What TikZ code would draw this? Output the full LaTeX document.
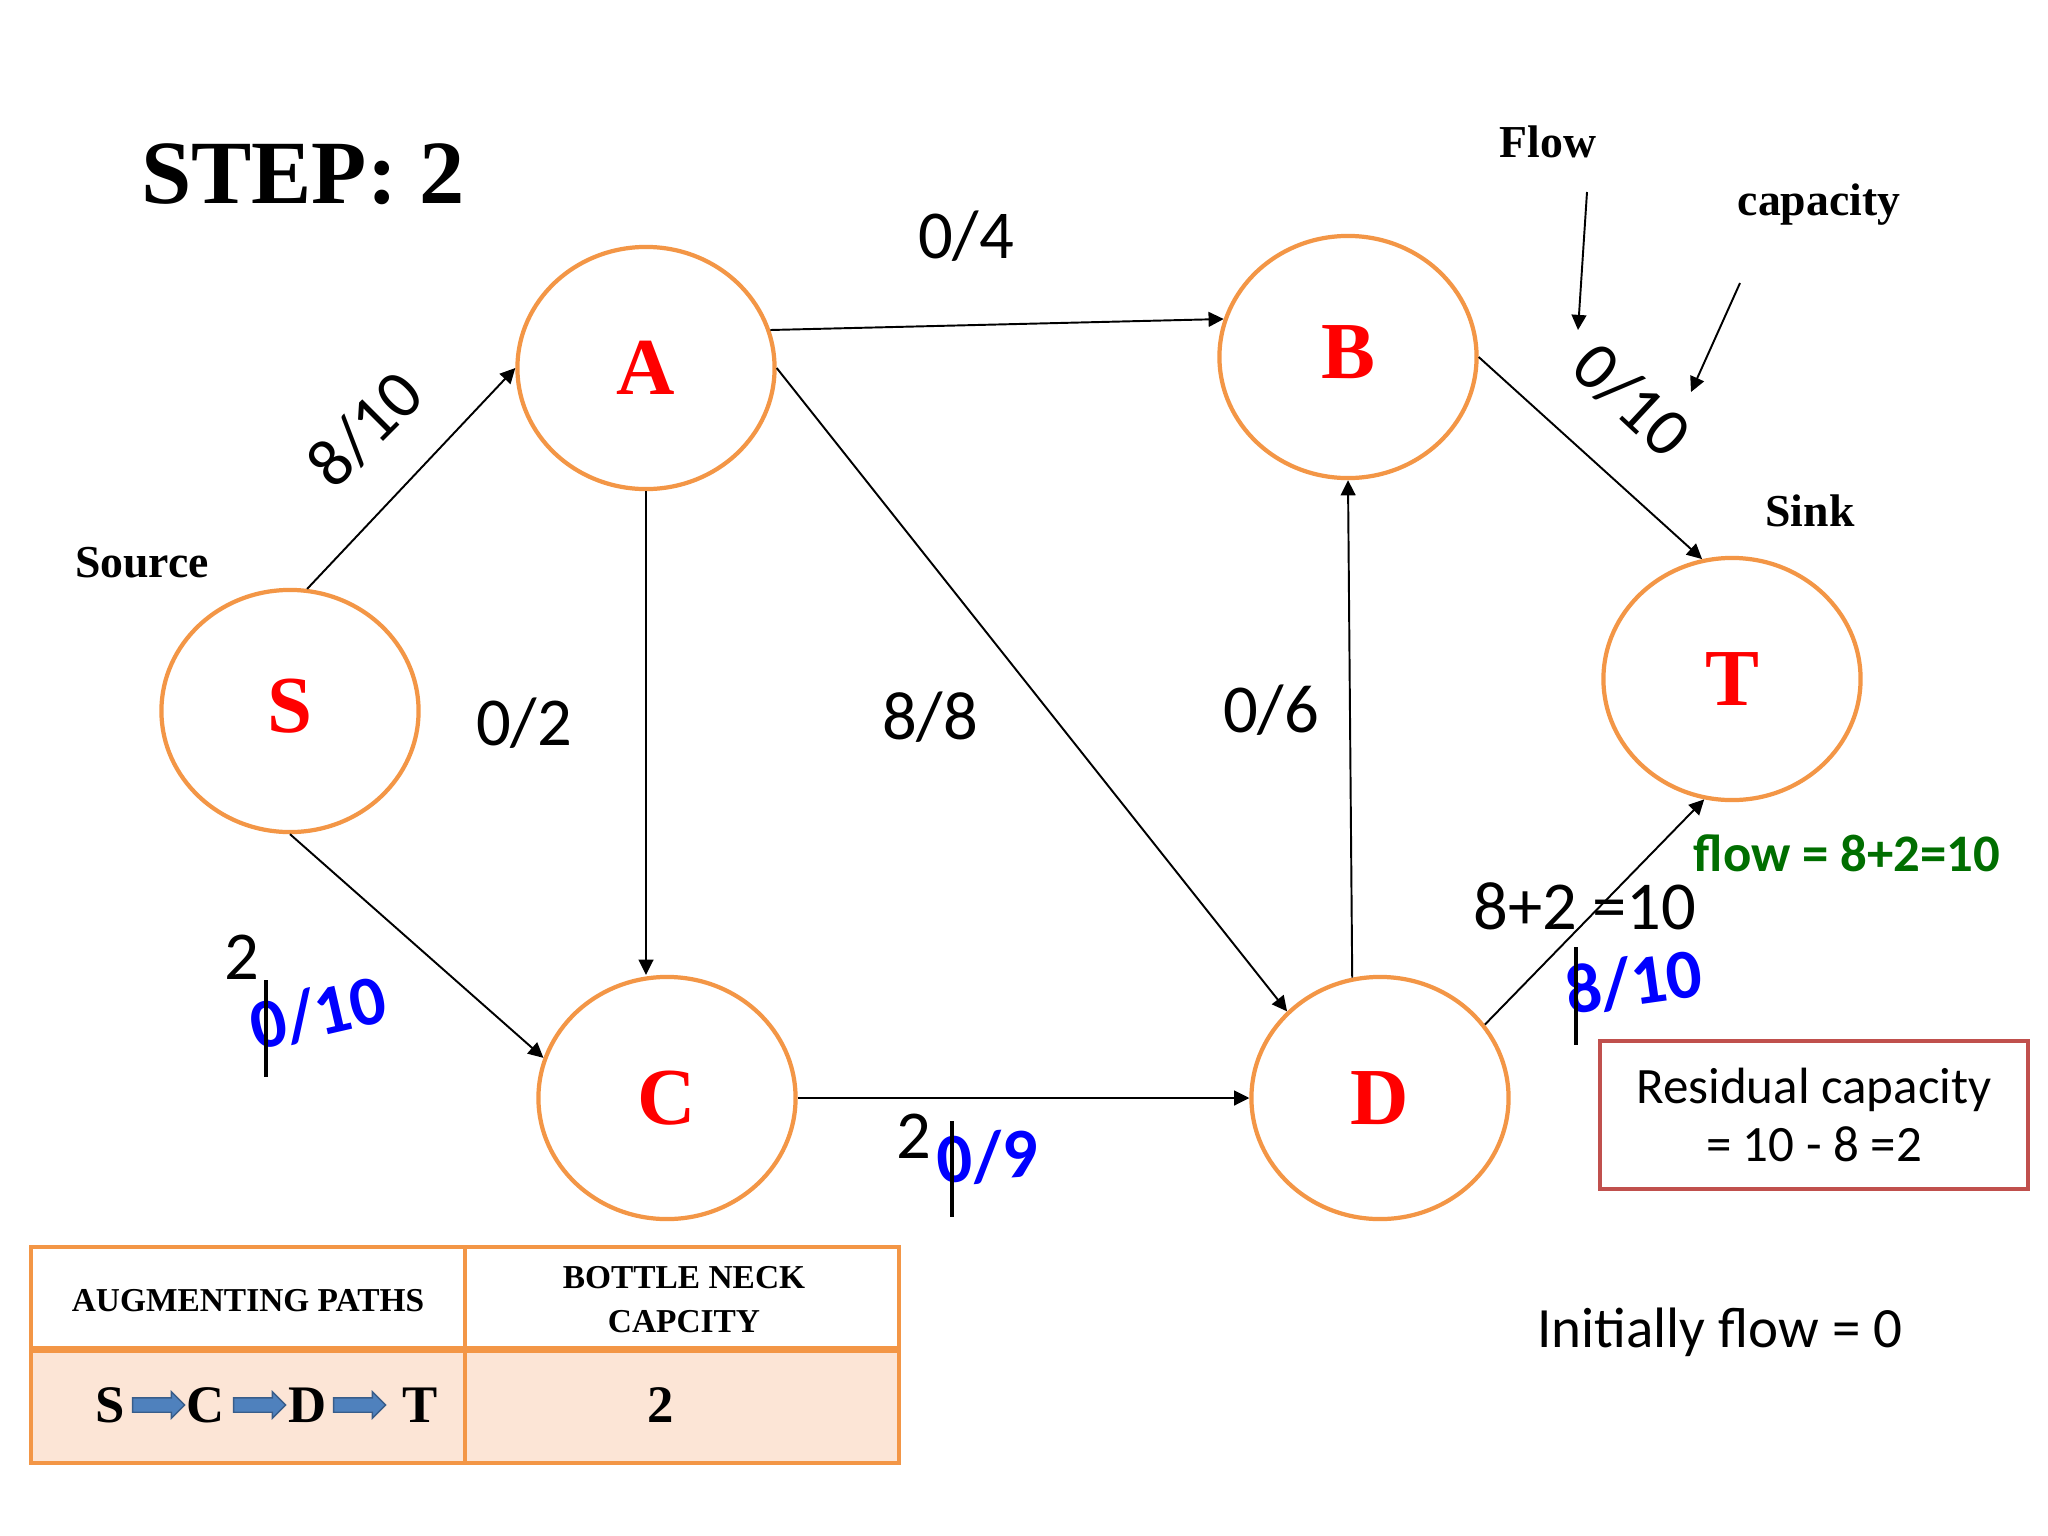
\documentclass[tikz,border=0pt]{standalone}
\usepackage{fontspec}
\setmainfont{Liberation Serif}
\newfontfamily\calfont{Carlito}
\usetikzlibrary{arrows.meta,shapes.geometric,shapes.arrows}
\definecolor{nodeor}{RGB}{243,150,70}
\definecolor{peach}{RGB}{252,229,214}
\definecolor{resred}{RGB}{192,80,77}
\definecolor{flowgreen}{RGB}{0,110,0}
\definecolor{arrfill}{RGB}{79,129,189}
\definecolor{arrdraw}{RGB}{56,93,138}
\newcommand{\fsz}[1]{\fontsize{#1}{#1}\selectfont}
\begin{document}
\begin{tikzpicture}[x=0.01cm,y=-0.01cm,
  vert/.style={ellipse,draw=nodeor,line width=1.2pt,minimum width=2.57cm,minimum height=2.42cm,inner sep=0pt,text=red,font=\bfseries\fsz{23}},
  edge/.style={-{Triangle[length=4.3pt,width=4.2pt]},line width=0.55pt},
  lbl/.style={font=\calfont\fsz{19.5}},
  blbl/.style={font=\calfont\bfseries\fsz{20},text=blue},
  note/.style={font=\bfseries\fsz{13}},
  bar/.style={line width=1.4pt},
  blk/.style={single arrow,fill=arrfill,draw=arrdraw,line width=0.4pt,inner xsep=0pt,inner ysep=0.065cm,minimum height=0.52cm,single arrow head extend=0.06cm},
  tlet/.style={font=\bfseries\fsz{15}}]
\useasboundingbox[fill=white] (0,0) rectangle (2048,1536);

% title
\node[font=\bfseries\fsz{25.7}] (title) at (303,174) {STEP: 2};

% vertices
\node[vert] (S) at (290,711) {\raisebox{3pt}{S}};
\node[vert] (A) at (646,368) {A};
\node[vert] (B) at (1348,357) {\raisebox{3pt}{B}};
\node[vert] (T) at (1732,679) {T};
\node[vert] (C) at (667,1098) {C};
\node[vert] (D) at (1380,1098) {D};

% edges
\draw[edge] (S.82) -- (A.west);
\draw[edge] (S.south) -- (C.162);
\draw[edge] (A.17) -- (B.163);
\draw[edge] (A.south) -- (A.south |- C.north);
\draw[edge] (A.east) -- (D.137);
\draw[edge] (C.east) -- (D.west);
\draw[edge] (D.103) -- (B.south);
\draw[edge] (B.east) -- (T.104);
\draw[edge] (D.35) -- (T.257);

% edge labels
\node[lbl,rotate=45] (lSA) at (365,429) {8/10};
\node[lbl] (lAB) at (966,236) {0/4};
\node[lbl] (lAC) at (524,723) {0/2};
\node[lbl] (lAD) at (930,717) {8/8};
\node[lbl] (lDB) at (1271,710) {0/6};
\node[lbl,rotate=-43] (lBT) at (1632,400) {0/10};

% updated labels
\node[lbl] (two1) at (242,957) {2};
\node[blbl,rotate=13] (lSC) at (318,1013) {0/10};
\draw[bar] (266,980) -- (266,1077);
\node[lbl] (two2) at (914,1136) {2};
\node[blbl,rotate=4] (lCD) at (988,1157) {0/9};
\draw[bar] (952,1121) -- (952,1217);
\node[lbl] (sum) at (1585,906) {8+2 =10};
\node[blbl,rotate=8] (lDT) at (1634,982) {8/10};
\draw[bar] (1576,947) -- (1576,1045);
\node[font=\calfont\bfseries\fsz{15},text=flowgreen] (flow) at (1847,853) {flow = 8+2=10};

% notes
\node[note] (Flow) at (1548,142) {Flow};
\node[note] (cap) at (1819,205) {capacity};
\node[note] (Sink) at (1810,511) {Sink};
\node[note] (Source) at (142,563) {Source};
\coordinate (fa1) at (1587,192);
\coordinate (fa2) at (1578,330);
\coordinate (ca1) at (1740,283);
\coordinate (ca2) at (1691,392);
\draw[edge] (fa1) -- (fa2);
\draw[edge] (ca1) -- (ca2);

% residual box
\node[draw=resred,line width=1.2pt,minimum width=4.28cm,minimum height=1.48cm,align=center,font=\calfont\fsz{14.5}] (res) at (1814,1115) {Residual capacity\\[2pt]= 10 - 8 =2};

\node[font=\calfont\fsz{16.2}] (init) at (1720,1332) {Initially flow = 0};

% table
\fill[peach] (31,1349) rectangle (899,1463);
\draw[nodeor,line width=1pt] (31,1247) rectangle (899,1463);
\draw[nodeor,line width=1pt] (465,1247) -- (465,1463);
\draw[nodeor,line width=2pt] (31,1349) -- (899,1349);
\node[font=\bfseries\fsz{9.5}] (h1) at (248,1301) {AUGMENTING PATHS};
\node[font=\bfseries\fsz{9.5},align=center] (h2) at (684,1300) {BOTTLE NECK\\[3pt]CAPCITY};
\node[tlet] (pS) at (110,1405) {S};
\node[blk] (p1) at (155,1405) {};
\node[tlet] (pC) at (206,1405) {C};
\node[blk] (p2) at (256,1405) {};
\node[tlet] (pD) at (308,1405) {D};
\node[blk] (p3) at (356,1405) {};
\node[tlet] (pT) at (420,1405) {T};
\node[tlet] (bn) at (661,1405) {2};
\end{tikzpicture}
\end{document}
